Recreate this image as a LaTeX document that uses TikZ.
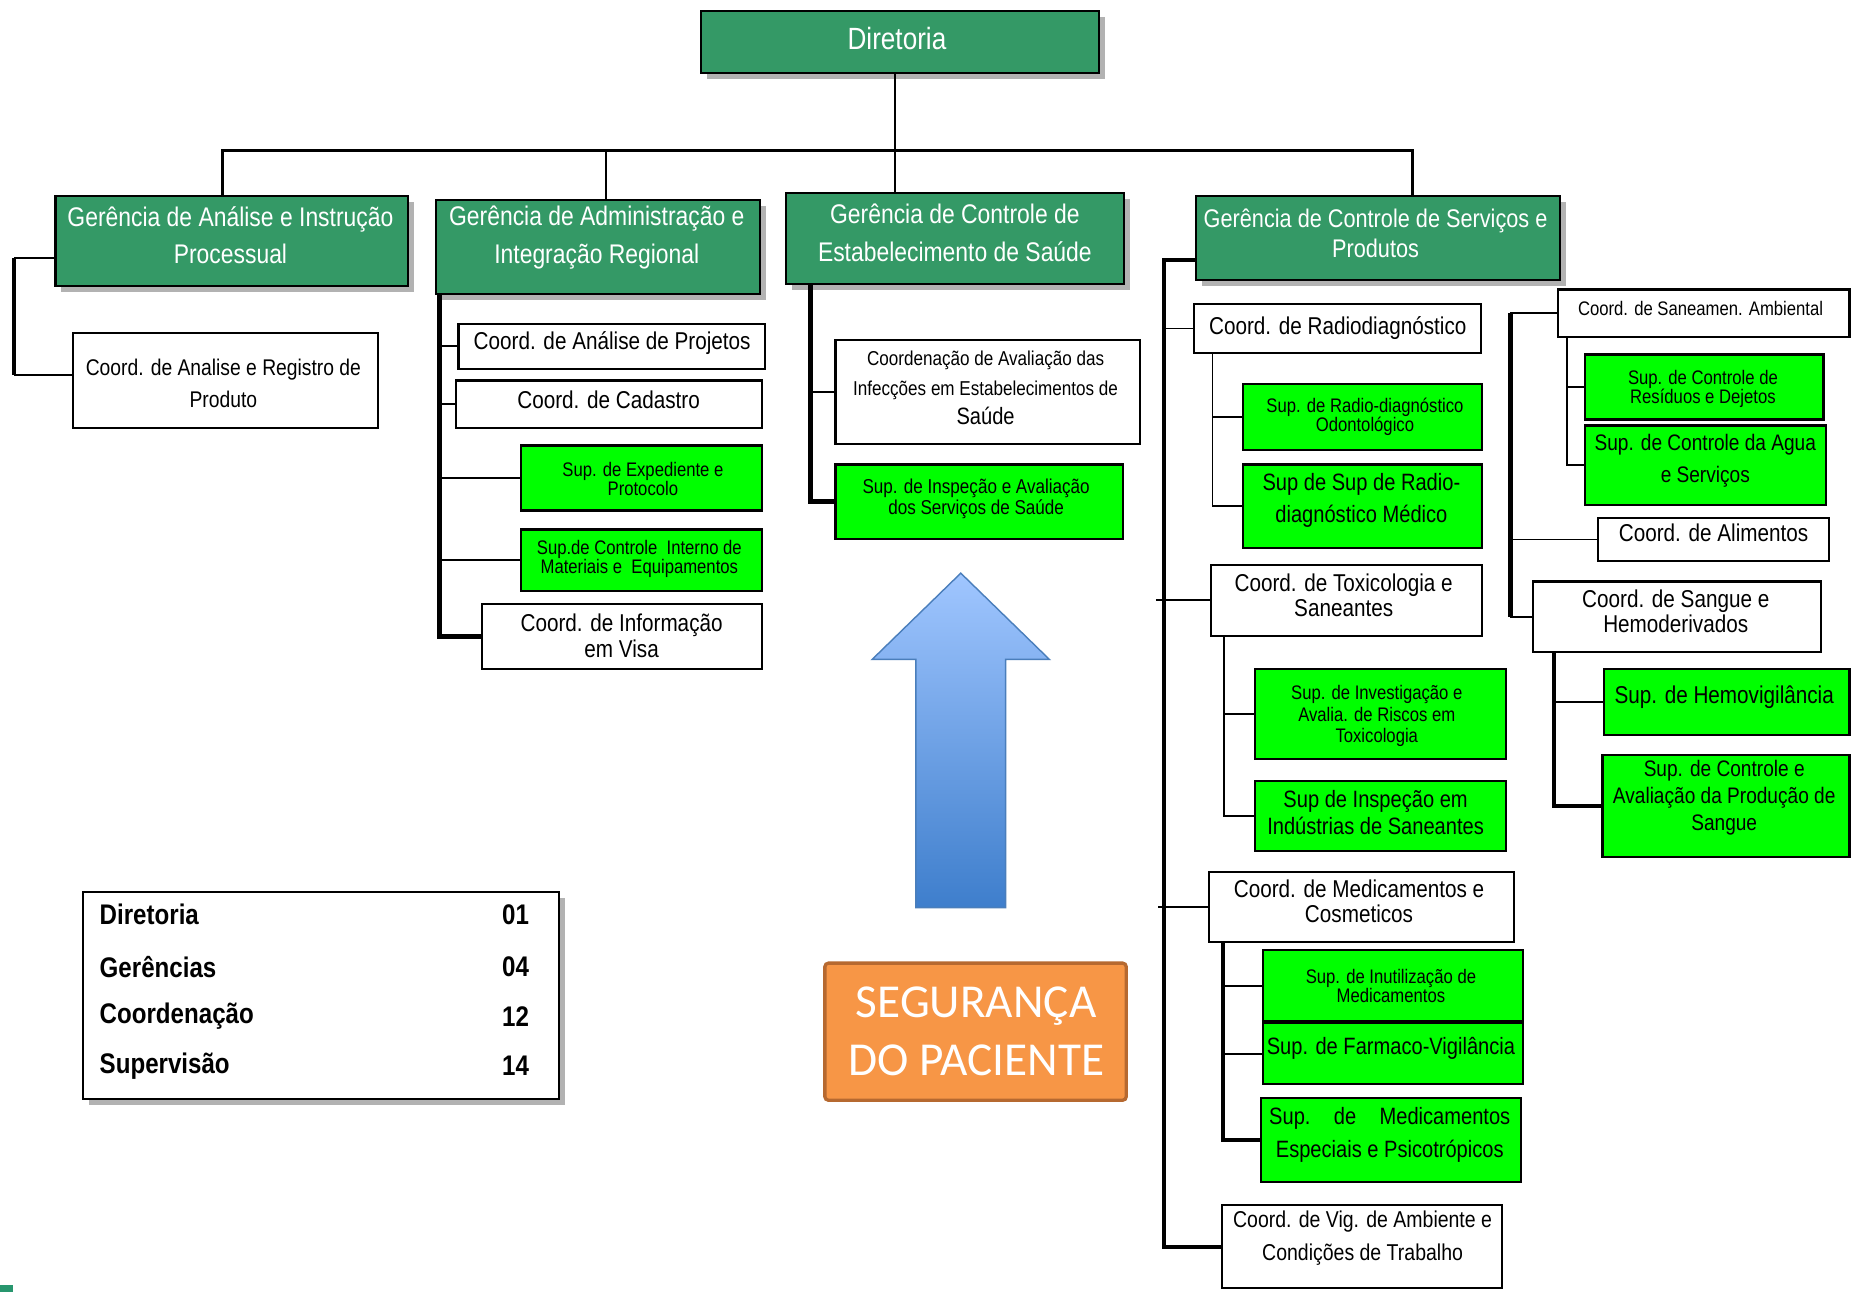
\documentclass[tikz,border=0pt]{standalone}
\usepackage{fontspec}
\setmainfont{Liberation Sans}[FakeStretch=0.85]
\newfontfamily\calib{Carlito}
\usetikzlibrary{shadows,calc}
\definecolor{hdr}{RGB}{52,153,102}
\definecolor{supg}{RGB}{0,255,0}
\definecolor{org}{RGB}{247,150,70}
\definecolor{orgd}{RGB}{182,105,48}
\definecolor{arrt}{RGB}{160,198,255}
\definecolor{arrb}{RGB}{62,126,204}
\definecolor{arrd}{RGB}{74,126,187}
\definecolor{markc}{RGB}{40,150,110}
\newcommand\bx[6]{\node[#1, minimum width={(#5-#3)*0.5pt}, minimum height={(#6-#4)*0.5pt}] (#2) at ({(#3+#5)/2},{(#4+#6)/2}) {};}
\newcommand\tx[5]{\node[#1] (#2) at (#3,#4) {#5};}
\begin{document}
\begin{tikzpicture}[x=0.5pt,y=-0.5pt,
  boxbase/.style={draw=black, line width=0.9pt, inner sep=0pt},
  hdrbox/.style={boxbase, fill=hdr, drop shadow={shadow xshift=2.5pt, shadow yshift=-2.5pt, fill=black!50, opacity=0.6}},
  cobox/.style={boxbase, fill=white},
  supbox/.style={boxbase, fill=supg},
  legbox/.style={boxbase, fill=white, drop shadow={shadow xshift=2.5pt, shadow yshift=-2.5pt, fill=black!50, opacity=0.6}},
  hdrtxt/.style={font={\fontsize{11.4}{#1}\selectfont}, text=white, align=center, inner sep=0pt},
  hdrtxt/.default=16pt,
  cotxt/.style={font={\fontsize{10.3}{#1}\selectfont}, align=center, inner sep=0pt},
  cotxt/.default=12pt,
  smtxt/.style={font={\fontsize{8.3}{#1}\selectfont}, align=center, inner sep=0pt},
  smtxt/.default=8pt,
  bgtxt/.style={font={\fontsize{10}{#1}\selectfont}, align=center, inner sep=0pt},
  bgtxt/.default=13.5pt,
  legtxt/.style={font={\fontsize{12}{14}\selectfont\bfseries}, inner sep=0pt},
  thinln/.style={line width=0.8pt},
  busln/.style={line width=1.2pt},
  thickln/.style={line width=1.9pt}]
\fill[white] (0,0) rectangle (1568,1093);
\useasboundingbox (0,0) rectangle (1568,1093);

% --- boxes ---
\bx{hdrbox}{dir}{593}{9}{930}{62}
\bx{hdrbox}{ga}{47}{166}{345}{242}
\bx{hdrbox}{gad}{369}{169}{643}{249}
\bx{hdrbox}{ge}{665}{163}{951}{240}
\bx{hdrbox}{gs}{1012}{166}{1320}{237}

\bx{cobox}{car}{62}{282}{320}{362}
\bx{cobox}{cap}{388}{274}{647}{312}
\bx{cobox}{ccad}{386}{322}{645}{362}
\bx{supbox}{sexp}{441}{377}{645}{432}
\bx{supbox}{sci}{441}{448}{645}{500}
\bx{cobox}{cinf}{408}{511}{645}{566}
\bx{cobox}{cav}{707}{288}{965}{376}
\bx{supbox}{sisa}{707}{393}{950}{456}
\bx{cobox}{crad}{1010}{257}{1253}{299}
\bx{supbox}{srodo}{1052}{325}{1254}{381}
\bx{supbox}{srmed}{1052}{393}{1254}{464}
\bx{cobox}{ctox}{1025}{478}{1254}{538}
\bx{supbox}{sinv}{1062}{566}{1274}{642}
\bx{supbox}{sind}{1062}{661}{1274}{720}
\bx{cobox}{cmed}{1023}{738}{1281}{797}
\bx{supbox}{sinu}{1069}{804}{1289}{864}
\bx{supbox}{sfar}{1069}{866}{1289}{917}
\bx{supbox}{smes}{1067}{929}{1287}{1000}
\bx{cobox}{cvig}{1034}{1020}{1271}{1090}
\bx{cobox}{csan}{1318}{245}{1565}{285}
\bx{supbox}{sres}{1341}{300}{1543}{355}
\bx{supbox}{sagua}{1341}{360}{1545}{427}
\bx{cobox}{calim}{1352}{438}{1548}{475}
\bx{cobox}{csang}{1297}{492}{1541}{552}
\bx{supbox}{shemo}{1357}{566}{1565}{622}
\bx{supbox}{sprod}{1356}{639}{1565}{725}
\bx{legbox}{leg}{70}{755}{473}{930}
\node[draw=orgd, fill=org, line width=1.4pt, rounded corners=1.5pt, minimum width=127.5pt, minimum height=58pt, inner sep=0pt] (seg) at (825.5,873) {};

% --- texts ---
\tx{font={\fontsize{13}{15}\selectfont}, text=white, inner sep=0pt}{tdir}{759}{33}{Diretoria}
\tx{hdrtxt}{tga}{195}{199}{Gerência de Análise e Instrução\\Processual}
\tx{hdrtxt}{tgad}{505}{201}{Gerência de Administração e\\Integração Regional}
\tx{hdrtxt}{tge}{808}{197}{Gerência de Controle de\\Estabelecimento de Saúde}
\tx{font={\fontsize{10.8}{12.5}\selectfont}, text=white, align=center, inner sep=0pt}{tgs}{1164}{197.5}{Gerência de Controle de Serviços e\\Produtos}

\tx{font={\fontsize{9.6}{13.5}\selectfont}, align=center, inner sep=0pt}{tcar}{189}{324.5}{Coord. de Analise e Registro de\\Produto}
\tx{cotxt}{tcap}{518}{290}{Coord. de Análise de Projetos}
\tx{cotxt}{tccad}{515}{338}{Coord. de Cadastro}
\tx{smtxt}{tsexp}{544}{405}{Sup. de Expediente e\\Protocolo}
\tx{smtxt}{tsci}{541}{473}{Sup.de Controle \ Interno de\\Materiais e \ Equipamentos}
\tx{cotxt=11pt}{tcinf}{526}{538}{Coord. de Informação\\em Visa}
\tx{font={\fontsize{8.5}{12.5}\selectfont}, align=center, inner sep=0pt}{tcav}{834}{328.5}{Coordenação de Avaliação das\\Infecções em Estabelecimentos de\\{\fontsize{10}{12.5}\selectfont Saúde}}
\tx{font={\fontsize{8.5}{8}\selectfont}, align=center, inner sep=0pt}{tsisa}{826}{422}{Sup. de Inspeção e Avaliação\\dos Serviços de Saúde}
\tx{cotxt}{tcrad}{1132}{278}{Coord. de Radiodiagnóstico}
\tx{smtxt}{tsrodo}{1155}{352.5}{Sup. de Radio-diagnóstico\\Odontológico}
\tx{bgtxt}{tsrmed}{1152}{423.5}{Sup de Sup de Radio-\\diagnóstico Médico}
\tx{cotxt=10.5pt}{tctox}{1137}{503.5}{Coord. de Toxicologia e\\Saneantes}
\tx{smtxt=9pt}{tsinv}{1165}{606}{Sup. de Investigação e\\Avalia. de Riscos em\\Toxicologia}
\tx{bgtxt=11.5pt}{tsind}{1164}{687.5}{Sup de Inspeção em\\Indústrias de Saneantes}
\tx{cotxt=10.5pt}{tcmed}{1150}{762.5}{Coord. de Medicamentos e\\Cosmeticos}
\tx{smtxt}{tsinu}{1177}{834}{Sup. de Inutilização de\\Medicamentos}
\tx{bgtxt}{tsfar}{1177}{887}{Sup. de Farmaco-Vigilância}
\tx{bgtxt=14pt}{tsmes}{1176}{960}{\hbox to 102pt{Sup.\hfill de\hfill Medicamentos}\\Especiais e Psicotrópicos}
\tx{font={\fontsize{9.7}{14}\selectfont}, align=center, inner sep=0pt}{tcvig}{1153}{1048}{Coord. de Vig. de Ambiente e\\Condições de Trabalho}
\tx{smtxt}{tcsan}{1439}{261}{Coord. de Saneamen. Ambiental}
\tx{smtxt}{tsres}{1441}{329}{Sup. de Controle de\\Resíduos e Dejetos}
\tx{font={\fontsize{9.5}{13.5}\selectfont}, align=center, inner sep=0pt}{tsagua}{1443}{389.5}{Sup. de Controle da Agua\\e Serviços}
\tx{cotxt}{tcalim}{1450}{451}{Coord. de Alimentos}
\tx{cotxt=10.5pt}{tcsang}{1418}{517.5}{Coord. de Sangue e\\Hemoderivados}
\tx{font={\fontsize{10.3}{12}\selectfont}, inner sep=0pt}{tshemo}{1459}{590}{Sup. de Hemovigilância}
\tx{font={\fontsize{9.5}{11.5}\selectfont}, align=center, inner sep=0pt}{tsprod}{1459}{675}{Sup. de Controle e\\Avaliação da Produção de\\Sangue}

\tx{legtxt, anchor=west}{la1}{84}{774}{Diretoria}
\tx{legtxt, anchor=east}{la2}{448}{774}{01}
\tx{legtxt, anchor=west}{lb1}{84}{818}{Gerências}
\tx{legtxt, anchor=east}{lb2}{448}{818}{04}
\tx{legtxt, anchor=west}{lc1}{84}{860}{Coordenação}
\tx{legtxt, anchor=east}{lc2}{448}{860}{12}
\tx{legtxt, anchor=west}{ld1}{84}{902}{Supervisão}
\tx{legtxt, anchor=east}{ld2}{448}{902}{14}

\node[font={\calib\fontsize{20}{24.5}\selectfont}, text=white, align=center, inner sep=0pt] (tseg) at (826,872.5) {SEGURANÇA\\DO PACIENTE};

% --- arrow ---
\path[draw=arrd, line width=0.6pt, top color=arrt, bottom color=arrb]
  (813,485) -- (888,558) -- (851,558) -- (851,768) -- (775,768) -- (775,558) -- (738,558) -- cycle;

% --- connectors ---
\coordinate (b1) at (188,127);
\coordinate (b2) at (513,127);
\coordinate (b3) at (757,127);
\coordinate (b4) at (1195,127);
\draw[thinln] (dir.south -| b3) -- (ge.north -| b3);
\draw[busln] (ga.north -| b1) -- (b1) -- (b4) -- (gs.north -| b4);
\draw[thinln] (b2) -- (gad.north -| b2);

\coordinate (l1) at (12,218);
\coordinate (l2) at (12,317);
\draw[thinln] (ga.west |- l1) -- (l1);
\draw[thickln] (l1) -- (l2);
\draw[thinln] (l2) -- (car.west |- l2);

\coordinate (v2) at (372,0);
\draw[thickln] (gad.south -| v2) |- (cinf.west);
\draw[thinln] (cap.west -| v2) -- (cap.west);
\draw[thinln] (ccad.west -| v2) -- (ccad.west);
\draw[thinln] (sexp.west -| v2) -- (sexp.west);
\draw[thinln] (sci.west -| v2) -- (sci.west);

\coordinate (v3) at (686,0);
\draw[thickln] (ge.south -| v3) |- (sisa.west);
\draw[thinln] (cav.west -| v3) -- (cav.west);

\coordinate (v4) at (985,220);
\draw[thickln] (gs.west |- v4) -- (v4) |- (cvig.west);
\draw[thinln] (crad.west -| v4) -- (crad.west);
\draw[thinln] ([xshift=-3.5pt]ctox.west -| v4) -- (ctox.west);
\draw[thinln] ([xshift=-2.5pt]cmed.west -| v4) -- (cmed.west);

\coordinate (v5) at (1026,0);
\draw[thinln] (crad.south -| v5) |- (srmed.west);
\draw[thinln] (srodo.west -| v5) -- (srodo.west);

\coordinate (v6) at (1036,0);
\draw[thinln] (ctox.south -| v6) |- (sind.west);
\draw[thinln] (sinv.west -| v6) -- (sinv.west);

\coordinate (v7) at (1035,0);
\draw[thickln] (cmed.south -| v7) |- (smes.west);
\draw[thinln] (sinu.west -| v7) -- (sinu.west);
\draw[thinln] (sfar.west -| v7) -- (sfar.west);

\coordinate (v8) at (1278,0);
\draw[thickln] (csan.west -| v8) -- (csang.west -| v8);
\draw[thinln] (csan.west -| v8) -- (csan.west);
\draw[thinln] (calim.west -| v8) -- (calim.west);
\draw[thinln] (csang.west -| v8) -- (csang.west);

\coordinate (v9) at (1326,0);
\draw[thinln] (csan.south -| v9) |- (sagua.west);
\draw[thinln] (sres.west -| v9) -- (sres.west);

\coordinate (v10) at (1315,0);
\draw[thickln] (csang.south -| v10) |- (sprod.west);
\draw[thinln] (shemo.west -| v10) -- (shemo.west);

% corner mark
\fill[markc] (0,1087) rectangle (11,1093);
\end{tikzpicture}
\end{document}
